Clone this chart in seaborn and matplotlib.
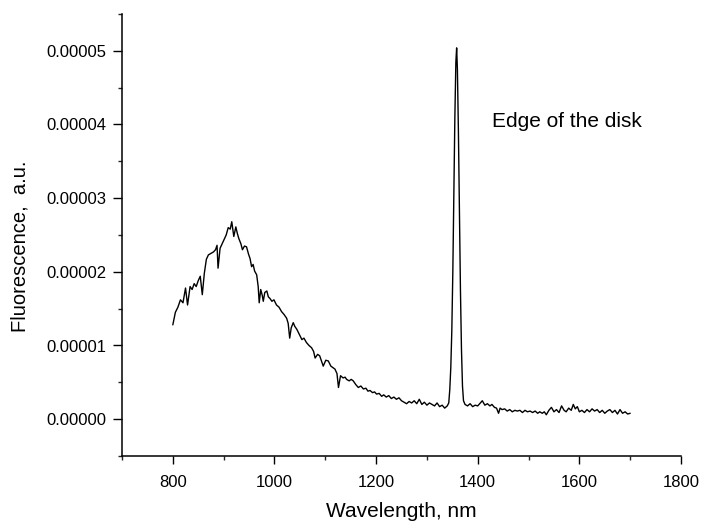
import matplotlib
matplotlib.use("Agg")
import matplotlib.pyplot as plt
import matplotlib.ticker as mticker
import seaborn as sns
import pandas as pd

# Wavelength (nm) and fluorescence (units of 1e-5 a.u.)
wavelength = [
    800, 805, 810, 815, 820, 825, 829, 834, 838, 842, 846, 850, 854, 858, 862, 866,
    870, 875, 880, 884, 887, 889, 893, 897, 901, 905, 909, 913, 916, 920, 924, 927,
    930, 934, 937, 941, 945, 949, 952, 955, 958, 961, 965, 968, 970, 973, 976, 978,
    981, 985, 988, 991, 995, 999, 1004, 1009, 1014, 1019, 1024, 1027, 1030, 1033,
    1037, 1040, 1044, 1049, 1054, 1058, 1063, 1068, 1073, 1077, 1080, 1085, 1089,
    1093, 1096, 1101, 1106, 1111, 1115, 1119, 1123, 1126, 1130, 1135, 1139, 1142,
    1147, 1151, 1155, 1160, 1165, 1170, 1175, 1180, 1184, 1188, 1193, 1197, 1201,
    1206, 1211, 1215, 1220, 1225, 1230, 1235, 1240, 1245, 1250, 1255, 1260, 1265,
    1270, 1275, 1280, 1285, 1290, 1295, 1300, 1305, 1310, 1315, 1320, 1325, 1330,
    1335, 1340, 1343, 1345, 1347, 1349, 1351, 1353, 1355, 1357, 1358.5, 1360, 1362,
    1364, 1366, 1368, 1370, 1372, 1375, 1380, 1385, 1390, 1395, 1400, 1405, 1409,
    1414, 1419, 1424, 1428, 1433, 1437, 1441, 1444, 1448, 1453, 1458, 1463, 1468,
    1473, 1478, 1483, 1488, 1493, 1498, 1503, 1508, 1513, 1518, 1522, 1527, 1531,
    1535, 1540, 1545, 1550, 1555, 1560, 1565, 1570, 1574, 1579, 1584, 1588, 1592,
    1596, 1600, 1605, 1610, 1615, 1620, 1625, 1630, 1635, 1640, 1645, 1650, 1655,
    1660, 1665, 1670, 1675, 1680, 1685, 1690, 1695, 1700,
]
fluorescence_e5 = [
    1.28, 1.45, 1.52, 1.62, 1.58, 1.78, 1.55, 1.80, 1.76, 1.84, 1.80, 1.88, 1.94, 1.69, 1.98, 2.17,
    2.23, 2.25, 2.27, 2.30, 2.36, 2.05, 2.32, 2.38, 2.44, 2.50, 2.60, 2.58, 2.68, 2.48, 2.61, 2.52,
    2.45, 2.38, 2.30, 2.35, 2.34, 2.24, 2.18, 2.07, 2.10, 2.01, 1.96, 1.80, 1.58, 1.76, 1.68, 1.60,
    1.72, 1.74, 1.66, 1.64, 1.60, 1.62, 1.55, 1.52, 1.46, 1.42, 1.37, 1.30, 1.10, 1.24,
    1.31, 1.26, 1.22, 1.15, 1.08, 1.10, 1.04, 1.00, 0.97, 0.92, 0.83, 0.88, 0.86,
    0.78, 0.72, 0.80, 0.79, 0.72, 0.70, 0.68, 0.62, 0.43, 0.59, 0.56, 0.57, 0.54,
    0.52, 0.54, 0.52, 0.47, 0.43, 0.45, 0.41, 0.42, 0.38, 0.39, 0.36, 0.37, 0.34,
    0.35, 0.31, 0.33, 0.30, 0.32, 0.28, 0.30, 0.27, 0.29, 0.25, 0.23, 0.21, 0.24,
    0.22, 0.25, 0.21, 0.27, 0.20, 0.23, 0.19, 0.22, 0.20, 0.18, 0.22, 0.17, 0.19,
    0.15, 0.18, 0.22, 0.40, 0.70, 1.20, 2.00, 3.00, 4.10, 4.85, 5.04, 4.75, 3.90,
    2.80, 1.75, 0.95, 0.45, 0.25, 0.20, 0.18, 0.21, 0.17, 0.19, 0.18, 0.22, 0.25,
    0.19, 0.21, 0.18, 0.20, 0.16, 0.15, 0.08, 0.15, 0.13, 0.14, 0.11, 0.13, 0.10,
    0.12, 0.11, 0.12, 0.09, 0.12, 0.10, 0.11, 0.09, 0.11, 0.08, 0.10, 0.08, 0.10,
    0.06, 0.12, 0.16, 0.10, 0.13, 0.09, 0.18, 0.12, 0.10, 0.15, 0.12, 0.20, 0.14,
    0.17, 0.10, 0.12, 0.09, 0.13, 0.10, 0.14, 0.11, 0.13, 0.09, 0.12, 0.08, 0.11,
    0.13, 0.09, 0.12, 0.07, 0.13, 0.08, 0.10, 0.07, 0.08,
]
x_ticks = [800, 1000, 1200, 1400, 1600, 1800]
y_ticks = [0.0, 0.00001, 0.00002, 0.00003, 0.00004, 0.00005]
annotation = "Edge of the disk"

df = pd.DataFrame({"Wavelength": wavelength,
                   "Fluorescence": [v * 1e-5 for v in fluorescence_e5]})

sns.set_style("ticks")
plt.rcParams["font.family"] = ["Liberation Sans", "DejaVu Sans"]
plt.rcParams["text.color"] = "black"
plt.rcParams["axes.labelcolor"] = "black"

fig = plt.figure(figsize=(7.02, 5.24), dpi=100)
ax = fig.add_axes([122 / 702, 1 - 456 / 524, (681 - 122) / 702, (456 - 14) / 524])

sns.lineplot(data=df, x="Wavelength", y="Fluorescence", ax=ax, color="black",
             linewidth=1.0, estimator=None, sort=False)

ax.set_xlim(700, 1800)
ax.set_ylim(-0.000005, 0.000055)
ax.set_xticks(x_ticks)
ax.set_yticks(y_ticks)
ax.xaxis.set_minor_locator(mticker.MultipleLocator(100))
ax.yaxis.set_minor_locator(mticker.MultipleLocator(0.000005))
ax.yaxis.set_major_formatter(mticker.FormatStrFormatter("%.5f"))

sns.despine(ax=ax)
for s in ["left", "bottom"]:
    ax.spines[s].set_linewidth(1.1)
    ax.spines[s].set_color("black")

ax.tick_params(axis="both", which="major", direction="out", width=1.0,
               labelsize=12, colors="black")
ax.tick_params(axis="x", which="major", length=5.5, pad=8)
ax.tick_params(axis="y", which="major", length=6.5, pad=5)
ax.tick_params(axis="both", which="minor", direction="out", width=1.0, length=3.2)

ax.set_xlabel("Wavelength, nm", fontsize=15)
ax.set_ylabel("Fluorescence,  a.u.", fontsize=14.5)
ax.xaxis.set_label_coords(0.5, -0.105)
ax.yaxis.set_label_coords(-0.165, 0.475)

ax.text(1428, 0.0000404, annotation, fontsize=15, ha="left", va="center",
        color="black")

fig.savefig("out.png", dpi=100)
